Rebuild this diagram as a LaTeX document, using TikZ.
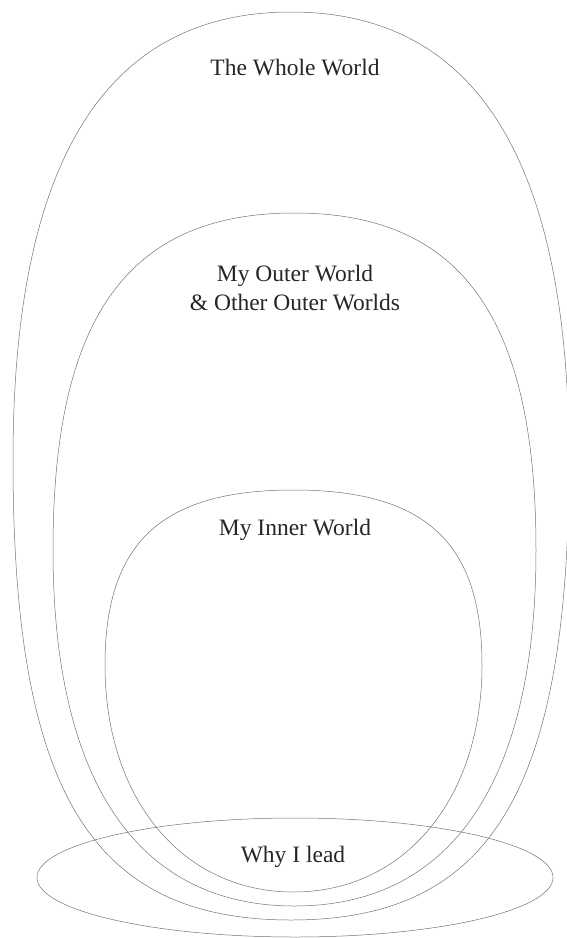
\documentclass[tikz,border=0pt]{standalone}
\usepackage{fontspec}
\setmainfont{Liberation Serif}
\begin{document}
\begin{tikzpicture}[x=1pt, y=-1pt,
    world/.style={draw=black!55, line width=0.5pt},
    worldlabel/.style={font=\fontsize{23.5}{29}\selectfont, text=black!85, align=center}]
    % 1. Khung ảnh
    \useasboundingbox (0,0) rectangle (567,938);

    % 2. Ba vùng lồng nhau
    % The Whole World
    \draw[world] (291,12) .. controls (476.4,12) and (569,161.2) .. (569,460)
        .. controls (569,791.2) and (491.2,920) .. (291,920)
        .. controls (90.8,920) and (13,791.2) .. (13,460)
        .. controls (13,161.2) and (105.6,12) .. (291,12) -- cycle;
    % My Outer World
    \draw[world] (294.5,213) .. controls (461.1,213) and (536,317.5) .. (536,550)
        .. controls (536,781.4) and (451.5,906) .. (294.5,906)
        .. controls (137.5,906) and (53,781.4) .. (53,550)
        .. controls (53,317.5) and (127.9,213) .. (294.5,213) -- cycle;
    % My Inner World
    \draw[world] (293.5,490) .. controls (425.5,490) and (482,542.5) .. (482,665)
        .. controls (482,798.9) and (404.7,892) .. (293.5,892)
        .. controls (182.3,892) and (105,798.9) .. (105,665)
        .. controls (105,542.5) and (161.6,490) .. (293.5,490) -- cycle;

    % 3. Elip ở đáy
    \draw[world] (295,877.5) ellipse [x radius=258pt, y radius=59.5pt];

    % 4. Nhãn
    \node[worldlabel] (whole) at (295,68) {The Whole World};
    \node[worldlabel] (outer) at (295,288) {My Outer World\\\& Other Outer Worlds};
    \node[worldlabel] (inner) at (295,530) {My Inner World};
    \node[worldlabel] (why) at (293,857) {Why I lead};
\end{tikzpicture}
\end{document}
